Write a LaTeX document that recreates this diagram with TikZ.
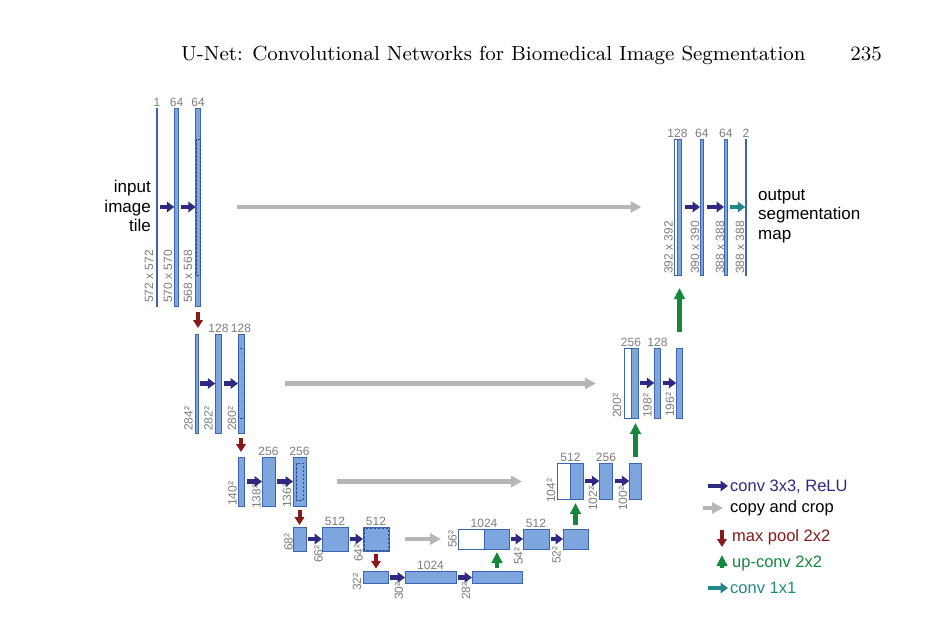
\documentclass[tikz,border=0pt]{standalone}
\usepackage{fontspec}
\newfontfamily\figfont{Liberation Sans}
\newfontfamily\headfont{lmroman9-regular.otf}
\usetikzlibrary{arrows.meta}
\tikzset {>=Stealth}

\definecolor{barfill}{RGB}{126,166,222}
\definecolor{barline}{RGB}{60,100,178}
\definecolor{cropline}{RGB}{40,75,150}
\definecolor{convcol}{RGB}{46,42,130}
\definecolor{copycol}{RGB}{182,182,182}
\definecolor{poolcol}{RGB}{135,25,25}
\definecolor{upcol}{RGB}{20,135,60}
\definecolor{onecol}{RGB}{35,135,135}
\definecolor{labgray}{RGB}{125,125,125}

\tikzset{
  bar/.style={draw=barline, fill=barfill, line width=0.8pt, inner sep=0pt, outer sep=0pt},
  half/.style={bar, fill=white},
  lv1/.style={minimum height=198pt}, lv2/.style={minimum height=99pt},
  lv3/.style={minimum height=49pt}, lv4/.style={minimum height=24pt},
  lv5/.style={minimum height=11.5pt},
  rv1/.style={minimum height=136pt}, rv2/.style={minimum height=70pt},
  rv3/.style={minimum height=36pt}, rv4/.style={minimum height=20pt},
  crop/.style={draw=cropline, line width=0.9pt, dash pattern=on 2.5pt off 1.5pt},
  chan/.style={anchor=base, inner sep=0pt, yshift=2pt, text=labgray, font=\figfont\fontsize{12}{14}\selectfont},
  dimlab/.style={rotate=90, anchor=base west, inner sep=0pt, text=labgray, font=\figfont\fontsize{12}{14}\selectfont},
  note/.style={inner sep=0pt, font=\figfont\fontsize{17}{19.5}\selectfont},
  legend/.style={anchor=base west, inner sep=0pt, font=\figfont\fontsize{16.5}{19}\selectfont},
  conv/.style={draw=convcol, line width=4.5pt, -{Triangle[length=7.5pt,width=10.5pt]}, shorten <=2pt},
  one/.style={conv, draw=onecol},
  copy/.style={draw=copycol, line width=4.5pt, -{Triangle[length=11pt,width=11pt]}},
  pool/.style={draw=poolcol, line width=4pt, -{Triangle[length=8pt,width=9.5pt]}},
  upconv/.style={draw=upcol, line width=4.5pt, -{Triangle[length=11pt,width=10.5pt]}}
}

\begin{document}
\begin{tikzpicture}[x=1pt,y=-1pt]
\useasboundingbox (0,0) rectangle (929,622);

% Running head
\node[anchor=base west, inner sep=0pt, font=\headfont\fontsize{20.4}{24}\selectfont] (title) at (181,60)
  {U-Net: Convolutional Networks for Biomedical Image Segmentation};
\node[anchor=base east, inner sep=0pt, font=\headfont\fontsize{20.4}{24}\selectfont] (page) at (882,60) {235};

% Contracting path
\node[bar, lv1, minimum width=1.5pt] (l1a) at (157,207) {};
\node[bar, lv1, minimum width=4.5pt] (l1b) at (176.5,207) {};
\node[bar, lv1, minimum width=4.5pt] (l1c) at (198,207) {};
\node[bar, lv2, minimum width=3pt] (l2a) at (196.5,383.5) {};
\node[bar, lv2, minimum width=6.5pt] (l2b) at (218.5,383.5) {};
\node[bar, lv2, minimum width=6pt] (l2c) at (241,383.5) {};
\node[bar, lv3, minimum width=6.5pt] (l3a) at (241.5,481.5) {};
\node[bar, lv3, minimum width=13pt] (l3b) at (268.5,481.5) {};
\node[bar, lv3, minimum width=13pt] (l3c) at (299.5,481.5) {};
\node[bar, lv4, minimum width=13pt] (l4a) at (299.5,539) {};
\node[bar, lv4, minimum width=26pt] (l4b) at (335,539) {};
\node[bar, lv4, minimum width=26pt] (l4c) at (376,539) {};
\node[bar, lv5, minimum width=25pt] (l5a) at (375.5,577.5) {};
\node[bar, lv5, minimum width=51pt] (l5b) at (430.5,577.5) {};
\node[bar, lv5, minimum width=50pt] (l5c) at (497,577.5) {};

% Expansive path
\node[half, rv4, minimum width=26pt] (r4w) at (471,539) {};
\node[bar, rv4, minimum width=25pt] (r4a) at (496.5,539) {};
\node[bar, rv4, minimum width=26pt] (r4b) at (536,539) {};
\node[bar, rv4, minimum width=25pt] (r4c) at (575.5,539) {};
\node[half, rv3, minimum width=13.5pt] (r3w) at (563.75,481) {};
\node[bar, rv3, minimum width=12.5pt] (r3a) at (576.75,481) {};
\node[bar, rv3, minimum width=13.5pt] (r3b) at (606,481) {};
\node[bar, rv3, minimum width=12.5pt] (r3c) at (635.5,481) {};
\node[half, rv2, minimum width=7pt] (r2w) at (627.5,383) {};
\node[bar, rv2, minimum width=7pt] (r2a) at (634.5,383) {};
\node[bar, rv2, minimum width=6.5pt] (r2b) at (657.5,383) {};
\node[bar, rv2, minimum width=6.5pt] (r2c) at (679.5,383) {};
\node[half, rv1, minimum width=3pt] (r1w) at (676,207) {};
\node[bar, rv1, minimum width=3.5pt] (r1a) at (679.25,207) {};
\node[bar, rv1, minimum width=3.5pt] (r1b) at (701.75,207) {};
\node[bar, rv1, minimum width=3.5pt] (r1c) at (725.75,207) {};
\node[bar, rv1, minimum width=1.5pt] (r1d) at (746,207) {};

% Cropped parts
\draw[crop] (196,139) rectangle (200,275);
\draw[crop] (238,348) rectangle (244,418);
\draw[crop] (296,463) rectangle (303,500);
\draw[crop] (364,528) rectangle (388,550);

% Channel numbers
\node[chan] at (l1a.north) {1};
\node[chan] at (l1b.north) {64};
\node[chan] at (l1c.north) {64};
\node[chan] at (l2b.north) {128};
\node[chan] at (l2c.north) {128};
\node[chan] at (l3b.north) {256};
\node[chan] at (l3c.north) {256};
\node[chan] at (l4b.north) {512};
\node[chan] at (l4c.north) {512};
\node[chan] at (l5b.north) {1024};
\node[chan] at (r4w.north east) {1024};
\node[chan] at (r4b.north) {512};
\node[chan] at (r3w.north east) {512};
\node[chan] at (r3b.north) {256};
\node[chan] at (r2w.north east) {256};
\node[chan] at (r2b.north) {128};
\node[chan] at (r1w.north east) {128};
\node[chan] at (r1b.north) {64};
\node[chan] at (r1c.north) {64};
\node[chan] at (r1d.north) {2};

% Tile sizes
\node[dimlab] at (153,303) {572 x 572};
\node[dimlab] at (172,303) {570 x 570};
\node[dimlab] at (192,303) {568 x 568};
\node[dimlab] at (192.5,431) {284²};
\node[dimlab] at (212.5,431) {282²};
\node[dimlab] at (236,431) {280²};
\node[dimlab] at (236.5,506) {140²};
\node[dimlab] at (260.5,509) {138²};
\node[dimlab] at (291,508) {136²};
\node[dimlab] at (292.5,551) {68²};
\node[dimlab] at (322.5,563) {66²};
\node[dimlab] at (362.5,562) {64²};
\node[dimlab] at (361,591) {32²};
\node[dimlab] at (403,600) {30²};
\node[dimlab] at (470,600) {28²};
\node[dimlab] at (456.5,548) {56²};
\node[dimlab] at (522.5,565) {54²};
\node[dimlab] at (560.5,564) {52²};
\node[dimlab] at (555,503) {104²};
\node[dimlab] at (597,511) {102²};
\node[dimlab] at (627,511) {100²};
\node[dimlab] at (621,418) {200²};
\node[dimlab] at (651.5,418) {198²};
\node[dimlab] at (674,417) {196²};
\node[dimlab] at (672.5,274) {392 x 392};
\node[dimlab] at (699,274) {390 x 390};
\node[dimlab] at (724,274) {388 x 388};
\node[dimlab] at (744,274) {388 x 388};

% conv 3x3
\draw[conv] (l1a) -- (l1b);
\draw[conv] (l1b) -- (l1c);
\draw[conv] (l2a) -- (l2b);
\draw[conv] (l2b) -- (l2c);
\draw[conv] (l3a) -- (l3b);
\draw[conv] (l3b) -- (l3c);
\draw[conv] (l4a) -- (l4b);
\draw[conv] (l4b) -- (l4c);
\draw[conv] (l5a) -- (l5b);
\draw[conv] (l5b) -- (l5c);
\draw[conv] (r4a) -- (r4b);
\draw[conv] (r4b) -- (r4c);
\draw[conv] (r3a) -- (r3b);
\draw[conv] (r3b) -- (r3c);
\draw[conv] (r2a) -- (r2b);
\draw[conv] (r2b) -- (r2c);
\draw[conv, shorten <=4pt] (r1a) -- (r1b);
\draw[conv, shorten <=3pt] (r1b) -- (r1c);
\draw[one, shorten <=2.5pt] (r1c) -- (r1d);

% copy and crop
\draw[copy, shorten <=37pt, shorten >=33pt] (l1c.east) -- (l1c.east -| r1w.west);
\draw[copy, shorten <=41pt, shorten >=28pt] (l2c.east) -- (l2c.east -| r2w.west);
\draw[copy, shorten <=31pt, shorten >=35pt] (l3c.east) -- (l3c.east -| r3w.west);
\draw[copy, shorten <=16pt, shorten >=17pt] (l4c.east) -- (l4c.east -| r4w.west);

% max pool
\draw[pool, shorten <=6pt, shorten >=6pt] (l1c.south) -- (l1c.south |- l2a.north);
\draw[pool, shorten <=5pt, shorten >=5pt] (l2c.south) -- (l2c.south |- l3a.north);
\draw[pool, shorten <=4pt, shorten >=2pt] (l3c.south) -- (l3c.south |- l4a.north);
\draw[pool, shorten <=3pt, shorten >=3pt] (l4c.south) -- (l4c.south |- l5a.north);

% up-conv
\draw[upconv, shorten <=4pt, shorten >=3pt] (l5c.north) -- (l5c.north |- r4a.south);
\draw[upconv, shorten <=4pt, shorten >=4pt] (r4c.north) -- (r4c.north |- r3a.south);
\draw[upconv, shorten <=6pt, shorten >=5pt] (r3c.north) -- (r3c.north |- r2a.south);
\draw[upconv, shorten <=16pt, shorten >=13pt] (r2c.north) -- (r2c.north |- r1a.south);

% Input and output
\node[note, align=right, anchor=east] (input) at (151,206) {input\\image\\tile};
\node[note, align=left, anchor=west] (output) at (758,216) {output\\segmentation\\map};

% Legend
\coordinate (lgA) at (708,486);
\coordinate (lgB) at (703,508);
\coordinate (lgC) at (722,530);
\coordinate (lgD) at (722,568);
\coordinate (lgE) at (708,588);
\draw[conv, shorten <=0pt] (lgA) -- +(20,0);
\draw[copy] (lgB) -- +(20,0);
\draw[pool] (lgC) -- +(0,17);
\draw[upconv] (lgD) -- +(0,-13);
\draw[one, shorten <=0pt] (lgE) -- +(20,0);
\node[legend, text=convcol] (lgconv) at (730,491) {conv 3x3, ReLU};
\node[legend] (lgcopy) at (730,512) {copy and crop};
\node[legend, text=poolcol] (lgpool) at (732,541) {max pool 2x2};
\node[legend, text=upcol] (lgup) at (732,567) {up-conv 2x2};
\node[legend, text=onecol] (lgone) at (730,593) {conv 1x1};

\end{tikzpicture}
\end{document}
